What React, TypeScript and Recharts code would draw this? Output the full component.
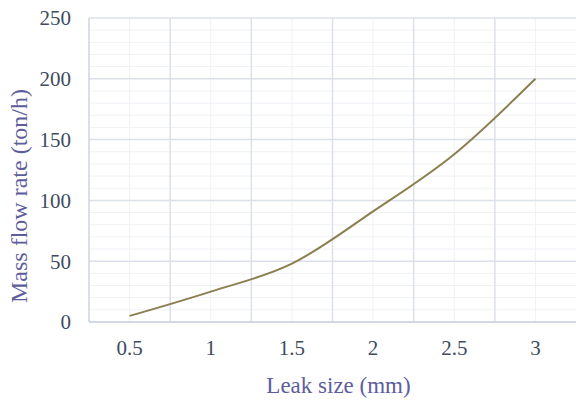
import { LineChart, Line, XAxis, YAxis, ReferenceLine, Label } from 'recharts'

const leakSizes = [0.5, 1, 1.5, 2, 2.5, 3]
const massFlow = [5, 25, 48, 91, 138, 200]

const xTicks = [0.5, 1, 1.5, 2, 2.5, 3]
const xBounds = [0.75, 1.25, 1.75, 2.25, 2.75]
const yTicks = [0, 50, 100, 150, 200, 250]
const yMinor = [
  10, 20, 30, 40, 60, 70, 80, 90, 110, 120, 130, 140, 160, 170, 180, 190, 210, 220, 230, 240,
]

const data = leakSizes.map((size, i) => ({ size, flow: massFlow[i] }))

const serif = 'Liberation Serif, Times New Roman, DejaVu Serif, serif'
const tickStyle = { fill: '#404b5e', fontSize: 21, style: { fontFamily: serif } }
const titleColor = '#5d5d9c'
const majorGrid = '#dce0e9'
const minorGrid = '#eff1f5'

const App = () => {
  return (
    <div style={{ position: 'absolute', left: 0, top: 0, fontFamily: serif }}>
      <LineChart
        width={576}
        height={401}
        data={data}
        margin={{ top: 18, right: 0, bottom: 0, left: 0 }}
        style={{ fontFamily: serif }}
      >
        {yMinor.map((v) => (
          <ReferenceLine key={'ym' + v} y={v} stroke={minorGrid} strokeWidth={1} />
        ))}
        {xTicks.map((v) => (
          <ReferenceLine key={'xm' + v} x={v} stroke={minorGrid} strokeWidth={1} />
        ))}
        {yTicks.map((v) => (
          <ReferenceLine key={'yM' + v} y={v} stroke={majorGrid} strokeWidth={1.5} />
        ))}
        {xBounds.map((v) => (
          <ReferenceLine key={'xM' + v} x={v} stroke={majorGrid} strokeWidth={1.5} />
        ))}
        <XAxis
          dataKey="size"
          type="number"
          domain={[0.25, 3.25]}
          ticks={xTicks}
          height={79}
          tickSize={0}
          tickMargin={18}
          tick={tickStyle}
          axisLine={{ stroke: '#cdd3e2', strokeWidth: 1.5 }}
        >
          <Label
            content={({ viewBox }: any) => (
              <text
                x={viewBox.x + viewBox.width / 2 + 6}
                y={393}
                textAnchor="middle"
                fill={titleColor}
                fontSize={23}
                style={{ fontFamily: serif }}
              >
                Leak size (mm)
              </text>
            )}
          />
        </XAxis>
        <YAxis
          domain={[0, 250]}
          ticks={yTicks}
          width={89}
          tickSize={0}
          tickMargin={18}
          tick={tickStyle}
          axisLine={{ stroke: '#cdd3e2', strokeWidth: 1.5 }}
        >
          <Label
            content={({ viewBox }: any) => {
              const cy = viewBox.y + viewBox.height / 2 + 26
              return (
                <text
                  x={27}
                  y={cy}
                  transform={`rotate(-90 27 ${cy})`}
                  textAnchor="middle"
                  fill={titleColor}
                  fontSize={24}
                  style={{ fontFamily: serif }}
                >
                  Mass flow rate (ton/h)
                </text>
              )
            }}
          />
        </YAxis>
        <Line
          type="monotone"
          dataKey="flow"
          stroke="#8c7f4f"
          strokeWidth={2}
          dot={false}
          isAnimationActive={false}
        />
      </LineChart>
    </div>
  )
}

export default App
